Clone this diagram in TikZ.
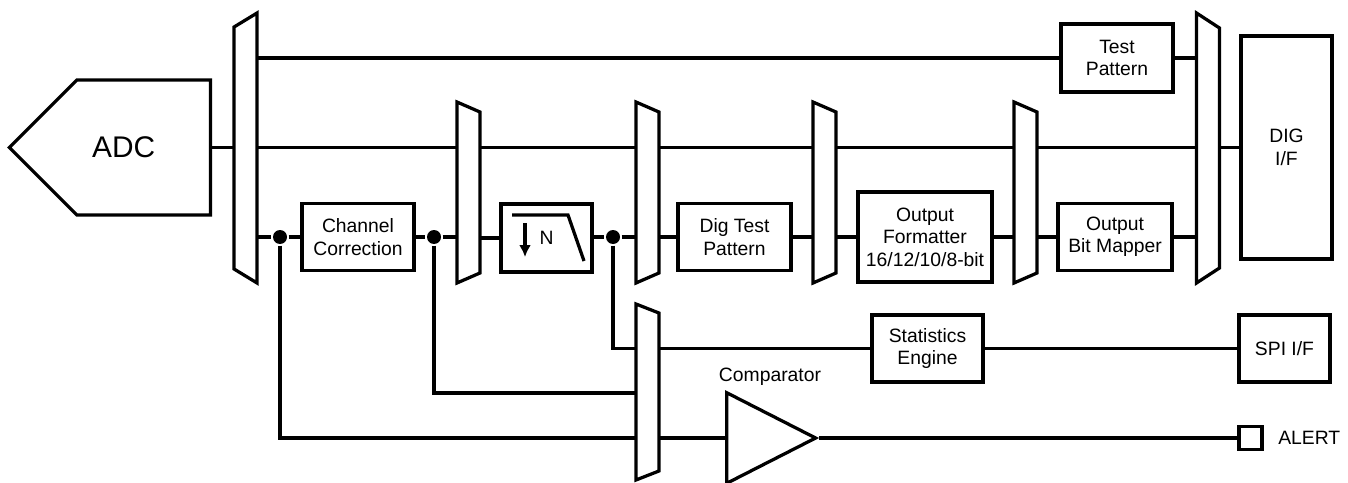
\documentclass[tikz,border=0pt]{standalone}
\usepackage{fontspec}
\setmainfont{Liberation Sans}
\usetikzlibrary{positioning,calc,arrows.meta,shapes.geometric,shapes.symbols}

\begin{document}
\begin{tikzpicture}[x=0.02cm, y=-0.02cm, >={Latex[length=0.24cm,width=0.24cm]}, line width=1.85pt,
    block/.style={draw, rectangle, inner sep=0pt, align=center, font=\fontsize{11}{12.8}\selectfont},
    mux/.style={rectangle, inner sep=0pt, outer sep=0pt, minimum width=0.46cm},
    dot/.style={circle, fill, inner sep=0pt, minimum size=0.28cm},
    lbl/.style={inner sep=0pt, font=\fontsize{11}{12.8}\selectfont}]
    \useasboundingbox (0,0) rectangle (1348,483);

    % converter
    \node (adc) [draw, signal, signal to=west, signal pointer angle=90, minimum width=4.02cm, minimum height=2.7cm,
        inner sep=0pt, anchor=east, font=\fontsize{17}{20}\selectfont] at (212,147.5) {ADC\kern0.8cm};

    % muxes
    \node (m1) [mux, minimum height=5.4cm] at (245.5,148) {};
    \node (m2) [mux, minimum height=3.62cm] at (468.5,192.5) {};
    \node (m3) [mux, minimum height=3.62cm] at (647.5,192.5) {};
    \node (m4) [mux, minimum height=3.62cm] at (824.5,192.5) {};
    \node (m5) [mux, minimum height=3.62cm] at (1025.5,192.5) {};
    \node (m6) [mux, minimum height=3.52cm] at (647.5,392) {};
    \node (m7) [mux, minimum height=5.4cm] at (1208,148) {};
    \foreach \m/\s in {m1/14}
        \draw (\m.north east) -- (\m.south east) -- ($(\m.south west)+(0,-\s)$) -- ($(\m.north west)+(0,\s)$) -- cycle;
    \foreach \m/\s in {m2/10, m3/10, m4/10, m5/10, m6/9, m7/15}
        \draw (\m.north west) -- (\m.south west) -- ($(\m.south east)+(0,-\s)$) -- ($(\m.north east)+(0,\s)$) -- cycle;

    % blocks
    \node (tp) [block, minimum width=2.24cm, minimum height=1.36cm] at (1117,58) {Test\\Pattern};
    \node (cc) [block, minimum width=2.24cm, minimum height=1.34cm] at (358,237) {Channel\\Correction};
    \node (dec) [block, minimum width=1.82cm, minimum height=1.36cm] at (546.5,238) {N};
    \node (dtp) [block, minimum width=2.26cm, minimum height=1.34cm] at (734.5,237) {Dig Test\\Pattern};
    \node (of) [block, minimum width=2.68cm, minimum height=1.8cm] at (925,237) {Output\\Formatter\\16/12/10/8-bit};
    \node (obm) [block, minimum width=2.28cm, minimum height=1.34cm] at (1115,237) {Output\\Bit Mapper};
    \node (dig) [block, minimum width=1.82cm, minimum height=4.46cm] at (1286.5,147.5) {DIG\\I/F};
    \node (se) [block, minimum width=2.22cm, minimum height=1.34cm] at (927.5,348.5) {Statistics\\Engine};
    \node (spi) [block, minimum width=1.82cm, minimum height=1.34cm] at (1284.5,348.5) {SPI I/F};
    \node (comp) [draw, isosceles triangle, isosceles triangle apex angle=54, minimum height=1.78cm,
        inner sep=0pt, anchor=west] at (725,438) {};
    \node (cmplbl) [lbl] at (770,377) {Comparator};
    \node (alert) [draw, minimum size=0.46cm, inner sep=0pt] at (1250.5,438) {};
    \node (alerttxt) [lbl, right=0.26cm of alert] {ALERT};

    % decimation filter symbol
    \draw[shift={(dec.center)}] (-34.5,-23) -- (21.5,-23) -- (37.5,23);
    \draw[->, shift={(dec.center)}] (-21.5,-15) -- (-21.5,19);

    % taps
    \node (d1) [dot] at (280,237) {};
    \node (d2) [dot] at (434,237) {};
    \node (d3) [dot] at (613,237) {};

    % main bus
    \draw (adc.east) -- (adc.east -| m1.west);
    \draw (m1.east |- tp) -- (tp.west);
    \draw (tp.east) -- (tp.east -| m7.west);
    \foreach \a/\b in {m1/m2, m2/m3, m3/m4, m4/m5, m5/m7}
        \draw (\a.east |- adc.east) -- (\b.west |- adc.east);
    \draw (m7.east |- dig) -- (dig.west);

    % signal chain
    \draw (m1.east |- d1) -- (d1) -- (cc.west |- d1);
    \draw (cc.east |- d2) -- (d2) -- (d2 -| m2.west);
    \draw (m2.east |- dec) -- (dec.west);
    \draw (dec.east |- d3) -- (d3) -- (d3 -| m3.west);
    \draw (m3.east |- dtp) -- (dtp.west);
    \draw (dtp.east) -- (dtp.east -| m4.west);
    \draw (m4.east |- of) -- (of.west);
    \draw (of.east) -- (of.east -| m5.west);
    \draw (m5.east |- obm) -- (obm.west);
    \draw (obm.east) -- (obm.east -| m7.west);

    % monitor paths
    \draw (d3) |- (m6.west |- se);
    \draw (d2) |- ($(m6.west)+(0,1)$);
    \draw (d1) |- (m6.west |- comp.west);
    \draw (m6.east |- se) -- (se.west);
    \draw (se.east) -- (spi.west);
    \draw (m6.east |- comp.west) -- (comp.west);
    \draw (comp.apex) -- (alert.west);
\end{tikzpicture}
\end{document}
